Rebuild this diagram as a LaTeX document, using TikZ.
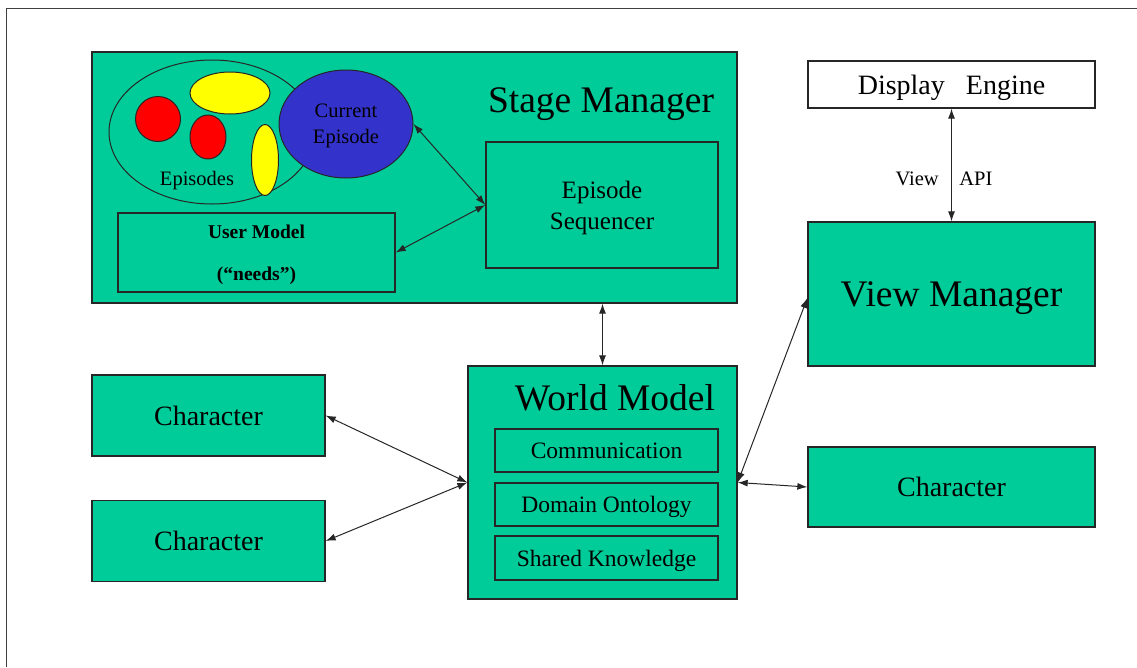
\documentclass[tikz,border=0pt]{standalone}
\usepackage{fontspec}
\setmainfont{Liberation Serif}
\usetikzlibrary{arrows.meta,shapes.geometric}

\definecolor{boxgreen}{RGB}{0,204,153}
\definecolor{epired}{RGB}{255,0,0}
\definecolor{epiyellow}{RGB}{255,255,0}
\definecolor{epiblue}{RGB}{51,51,204}

\tikzset{
    greenbox/.style={draw=black!85, line width=1.3pt, fill=boxgreen, inner sep=0pt, text depth=0pt},
    whitebox/.style={draw=black!85, line width=1.3pt, fill=white, inner sep=0pt, text depth=0pt},
    epi/.style={ellipse, draw=black!85, line width=1pt, inner sep=0pt},
    link/.style={draw=black!85, line width=1pt},
    bigfont/.style={font=\fontsize{37.5}{40}\selectfont},
    charfont/.style={font=\fontsize{28}{30}\selectfont},
    midfont/.style={font=\fontsize{25}{31}\selectfont},
    smallfont/.style={font=\fontsize{20.5}{26}\selectfont}
}

\begin{document}
\begin{tikzpicture}[x=1pt, y=-1pt, >={Latex[length=10pt,width=7pt]}]
        \useasboundingbox (0,0) rectangle (1137,667);
        \draw[draw=black!75, line width=1pt] (6,667)--(6,8)--(1137,8);

        % stage manager
        \node[greenbox, minimum width=645, minimum height=251] (sm) at (414.5,177.5) {};
        \node[bigfont] (smtitle) at (601,104) {Stage Manager};
        \node[epi, minimum width=206, minimum height=144] (pool) at (212,132) {};
        \node[epi, fill=epiyellow, minimum width=80, minimum height=42] (yone) at (230,93) {};
        \node[epi, fill=epired, minimum width=45, minimum height=45] (rone) at (158,119) {};
        \node[epi, fill=epired, minimum width=36, minimum height=44] (rtwo) at (208,137) {};
        \node[epi, fill=epiyellow, minimum width=27, minimum height=71] (ytwo) at (265,160) {};
        \node[smallfont] (pooltext) at (197,181) {Episodes};
        \node[epi, fill=epiblue, minimum width=134, minimum height=108, align=center, smallfont, text depth=0pt] (cur) at (346,124) {Current\\Episode};
        \node[greenbox, minimum width=232, minimum height=126, align=center, midfont] (seq) at (602,205) {Episode\\Sequencer};
        \node[greenbox, minimum width=277, minimum height=79, align=center, font=\bfseries\fontsize{19.5}{42}\selectfont] (um) at (256.5,252.5) {User Model\\(“needs”)};

        % world model
        \node[greenbox, minimum width=269, minimum height=233] (wm) at (602.5,482.5) {};
        \node[bigfont] (wmtitle) at (615,398) {World Model};
        \node[greenbox, minimum width=223, minimum height=43, font=\fontsize{23.5}{26}\selectfont] (comm) at (606.5,450.5) {Communication};
        \node[greenbox, minimum width=223, minimum height=43, font=\fontsize{23.5}{26}\selectfont] (onto) at (606.5,504.5) {Domain Ontology};
        \node[greenbox, minimum width=223, minimum height=44, font=\fontsize{23.5}{26}\selectfont] (know) at (606.5,558) {Shared Knowledge};

        % characters
        \node[greenbox, minimum width=233, minimum height=81, charfont] (cone) at (208.5,415.5) {Character};
        \node[greenbox, minimum width=233, minimum height=81, charfont] (ctwo) at (208.5,541) {Character};
        \node[greenbox, minimum width=287, minimum height=80, charfont] (cthree) at (951.5,487) {Character};

        % view side
        \node[greenbox, minimum width=287, minimum height=144, bigfont] (vm) at (951.5,294) {View Manager};
        \node[whitebox, minimum width=287, minimum height=47, charfont] (de) at (951.5,84.5) {Display\hspace{0.75em}Engine};

        \draw[link, <->] (cur.east) -- (seq.west);
        \draw[link, <->] (um.east) -- (seq.west);
        \draw[link, <->] (sm.south -| wm.north) -- (wm.north);
        \draw[link, <->] (cone.east) -- (wm.west);
        \draw[link, <->] (ctwo.east) -- (wm.west);
        \draw[link, <->] (wm.east) -- ([yshift=-4pt]vm.west);
        \draw[link, <->] (wm.east) -- (cthree.west);
        \draw[link, <->] (de.south) -- (vm.north)
            node[pos=0.62, left=9pt, smallfont] (viewlbl) {View}
            node[pos=0.62, right=4pt, smallfont] (apilbl) {API};
\end{tikzpicture}
\end{document}
